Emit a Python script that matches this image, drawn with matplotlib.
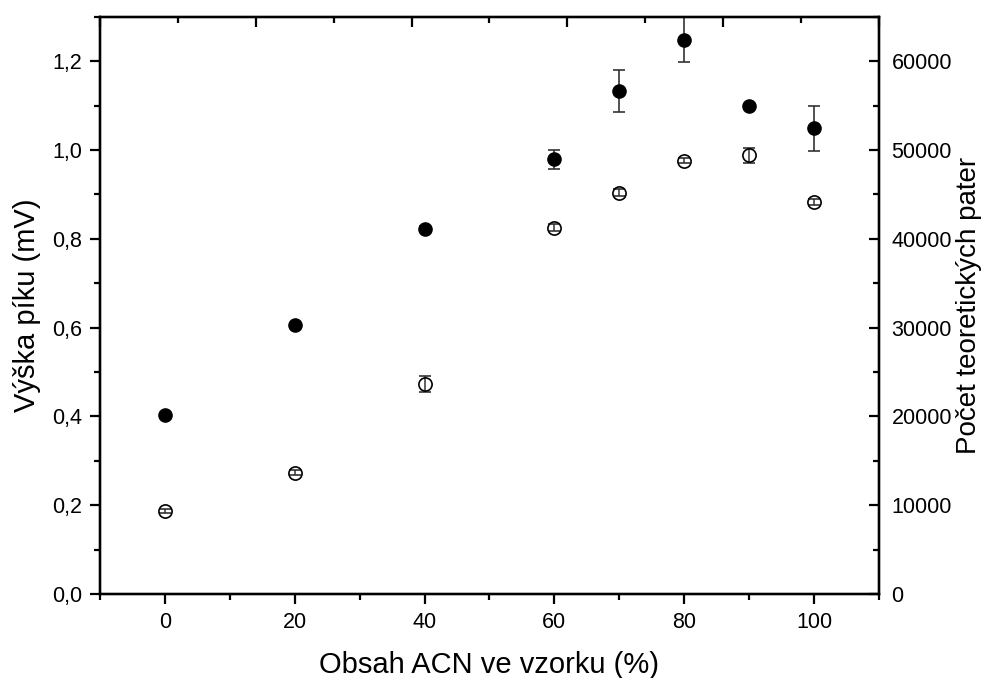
import matplotlib.pyplot as plt
from matplotlib.ticker import MultipleLocator, FuncFormatter

plt.rcParams['font.family'] = ['Liberation Sans', 'DejaVu Sans']

# data
acn = [0, 20, 40, 60, 70, 80, 90, 100]  # obsah ACN (%)
vyska = [0.403, 0.606, 0.823, 0.979, 1.133, 1.249, 1.099, 1.049]  # mV
vyska_err = [0.005, 0.005, 0.005, 0.021, 0.047, 0.05, 0.005, 0.05]
patra = [9350, 13650, 23700, 41250, 45200, 48800, 49400, 44150]
patra_err = [250, 300, 900, 400, 400, 300, 850, 350]

fig = plt.figure(figsize=(9.82, 6.78), dpi=100)
ax = fig.add_axes([0.1018, 0.124, 0.7933, 0.851])
ax2 = ax.twinx()
axt = ax.twiny()

ax.errorbar(acn, vyska, yerr=vyska_err, fmt='o', ms=9.5, color='black',
            ecolor='#333333', elinewidth=1.2, capsize=4, capthick=1.2)
ax2.errorbar(acn, patra, yerr=patra_err, fmt='o', ms=9.5, mfc='none', mec='black',
             mew=1.2, ecolor='#333333', elinewidth=1.1, capsize=4, capthick=1.1)

ax.set_xlim(-10, 110)
ax.set_ylim(0, 1.3)
ax2.set_ylim(0, 65000)
axt.set_xlim(0, 10)

ax.xaxis.set_major_locator(MultipleLocator(20))
ax.xaxis.set_minor_locator(MultipleLocator(10))
ax.yaxis.set_major_locator(MultipleLocator(0.2))
ax.yaxis.set_minor_locator(MultipleLocator(0.1))
ax.yaxis.set_major_formatter(FuncFormatter(lambda v, p: f'{v:.1f}'.replace('.', ',')))
ax2.yaxis.set_major_locator(MultipleLocator(10000))
ax2.yaxis.set_minor_locator(MultipleLocator(5000))
axt.xaxis.set_major_locator(MultipleLocator(2))
axt.xaxis.set_minor_locator(MultipleLocator(1))
axt.set_xticklabels([])

for a in (ax, ax2, axt):
    for s in a.spines.values():
        s.set_linewidth(1.6)

ax.tick_params(which='major', direction='out', length=7, width=1.6, labelsize=15.5, pad=6)
ax.tick_params(which='minor', direction='out', length=4, width=1.6)
ax2.tick_params(which='major', direction='in', length=7, width=1.6, labelsize=15.5, pad=9)
ax2.tick_params(which='minor', direction='in', length=4, width=1.6)
axt.tick_params(which='major', direction='in', length=7, width=1.6)
axt.tick_params(which='minor', direction='in', length=4, width=1.6)

ax.set_xlabel('Obsah ACN ve vzorku (%)', fontsize=21, labelpad=13)
ax.set_ylabel('Výška píku (mV)', fontsize=21, labelpad=8)
ax2.set_ylabel('Počet teoretických pater', fontsize=20, labelpad=3)

fig.savefig('out.png', dpi=100)
